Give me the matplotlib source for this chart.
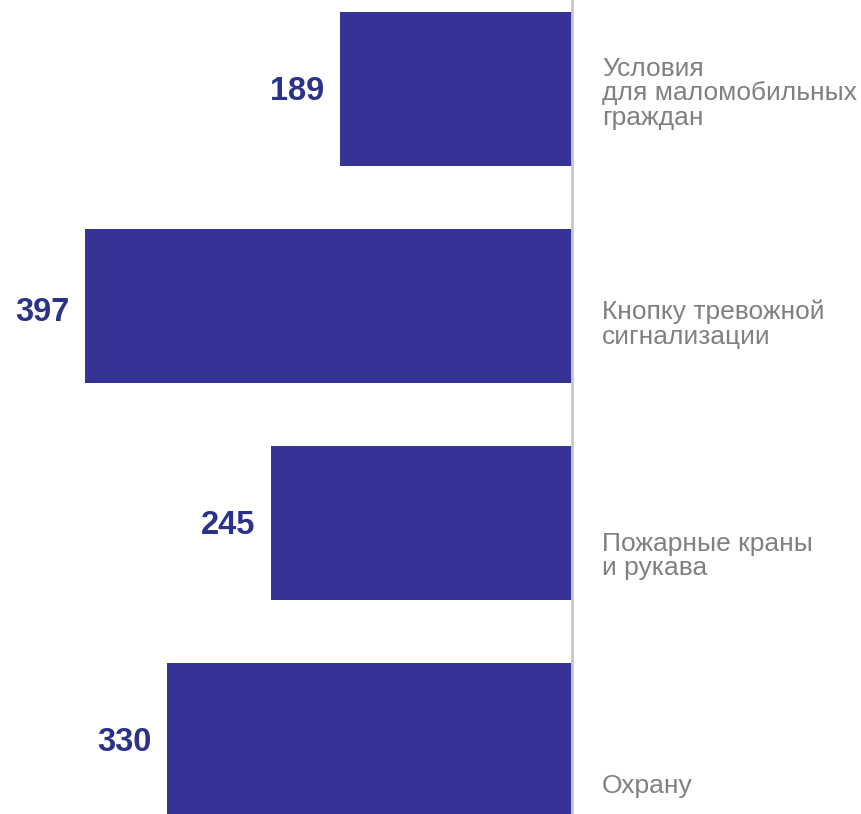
import matplotlib.pyplot as plt

plt.rcParams['font.family'] = ['Liberation Sans', 'DejaVu Sans']

# данные
categories = ['Условия\nдля маломобильных\nграждан',
              'Кнопку тревожной\nсигнализации',
              'Пожарные краны\nи рукава',
              'Охрану']
values = [189, 397, 245, 330]

# сдвиги подписей относительно центра столбца (в долях шага)
label_shift = [0.02, 0.083, 0.152, 0.21]
num_shift = [0.01, 0.03, 0.01, 0.01]

bar_color = '#363396'
num_color = '#2b3388'
text_color = '#808080'

fig = plt.figure(figsize=(8.61, 8.14), dpi=100)
ax = fig.add_axes([0, 0, 1, 1])

ypos = list(range(len(values)))
ax.barh(ypos, [-v for v in values], height=0.71, color=bar_color)

ax.axvline(0, color='#c8c8c8', lw=2, zorder=3)

for y, v, s in zip(ypos, values, num_shift):
    ax.text(-v - 13, y + s, str(v), ha='right', va='center', fontsize=23.5,
            fontweight='bold', color=num_color)

for y, lab, s in zip(ypos, categories, label_shift):
    ax.text(24.5, y + s, lab, ha='left', va='center', fontsize=19,
            color=text_color, linespacing=1.03)

ax.set_xlim(-466.2, 235.5)
ax.set_ylim(3.341, -0.41)
ax.axis('off')

fig.savefig('out.png', dpi=100)
